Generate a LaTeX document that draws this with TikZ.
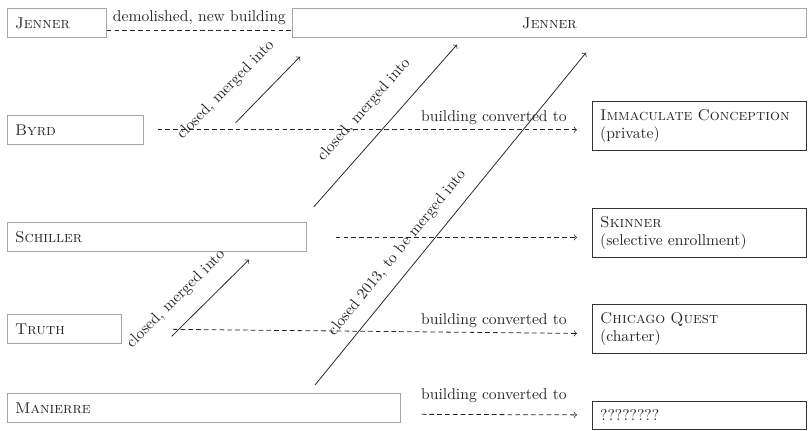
\documentclass[tikz,border=0pt]{standalone}
\usepackage{tikz}
\usetikzlibrary{arrows}
\usetikzlibrary{calc}
\tikzstyle{base}=[x=0.64pt, y=-0.64pt, black!85, line width=0.5pt]
\tikzstyle{oldbox}=[draw=black!35, line width=0.4pt, anchor=north west, inner xsep=5pt, inner ysep=0pt, minimum height=18.6pt, align=left]
\tikzstyle{newbox}=[draw=black!80, line width=0.5pt, anchor=north west, inner xsep=5pt, inner ysep=0pt, minimum height=31.4pt, text width=127pt, align=left]
\tikzstyle{convline}=[densely dashed]
\tikzstyle{mergeline}=[->]
\tikzstyle{mergelabel}=[sloped]

\begin{document}
\begin{tikzpicture}[base]
    \path [use as bounding box] (0,0) rectangle (808,431);
        % closed schools
        \node [oldbox, text width=53.4pt] (jennerold) at (7,8) {\textsc{Jenner}};
        \node [oldbox, text width=77pt] (byrd) at (7,115) {\textsc{Byrd}};
        \node [oldbox, text width=181.4pt] (schiller) at (7,222) {\textsc{Schiller}};
        \node [oldbox, text width=63pt] (truth) at (7,314) {\textsc{Truth}};
        \node [oldbox, text width=241.5pt] (manierre) at (7,393) {\textsc{Manierre}};
        % what the buildings became
        \node [oldbox, text width=319pt, align=center] (jennernew) at (292,8) {\textsc{Jenner}};
        \node [newbox] (immaculate) at (592,101) {\textsc{Immaculate Conception}\\(private)};
        \node [newbox] (skinner) at (592,208) {\textsc{Skinner}\\(selective enrollment)};
        \node [newbox] (quest) at (592,304) {\textsc{Chicago Quest}\\(charter)};
        \node [newbox, minimum height=17.9pt] (unknown) at (592,401) {????????};
        % buildings
        \draw [convline] ($(jennerold.east)+(0,7.5)$) -- node [above] {demolished, new building} ($(jennerold.east -| jennernew.west)+(0,7.5)$);
        \draw [convline, ->] ($(byrd.east)+(14,0)$) -- ($(byrd.east -| immaculate.west)+(-15,0)$) node [above left, xshift=-3pt] {building converted to};
        \draw [convline, ->] ($(schiller.east)+(29,0.5)$) -- ($(schiller.east -| skinner.west)+(-15,0.5)$);
        \draw [convline, ->] ($(truth.east)+(51,0.5)$) -- ($(quest.west)+(-15,4.5)$) node [above left, xshift=-3pt] {building converted to};
        \draw [convline, ->] ($(manierre.east)+(21,6.5)$) -- ($(unknown.west)+(-15,-0.5)$) node [above left, xshift=-3pt, yshift=4pt] {building converted to};
        % students
        \draw [mergeline] ($(byrd.east)+(92,-7)$) -- node [mergelabel, above=11pt, pos=0.18] {closed, merged into} ($(jennernew.south west)+(8,19)$);
        \draw [mergeline] ($(schiller.north east)+(7,-15)$) -- node [mergelabel, above=8.8pt, pos=0.49] {closed, merged into} ($(jennernew.south west)+(165,7)$);
        \draw [mergeline] ($(truth.east)+(50,7.5)$) -- node [mergelabel, above=6.9pt, pos=0.27] {closed, merged into} ($(schiller.south west)+(242,8)$);
        \draw [mergeline] ($(manierre.north west)+(308,-8)$) -- node [mergelabel, above=4.5pt, pos=0.36] {closed 2013, to be merged into} ($(jennernew.south west)+(294,15)$);
    \end{tikzpicture}
\end{document}
